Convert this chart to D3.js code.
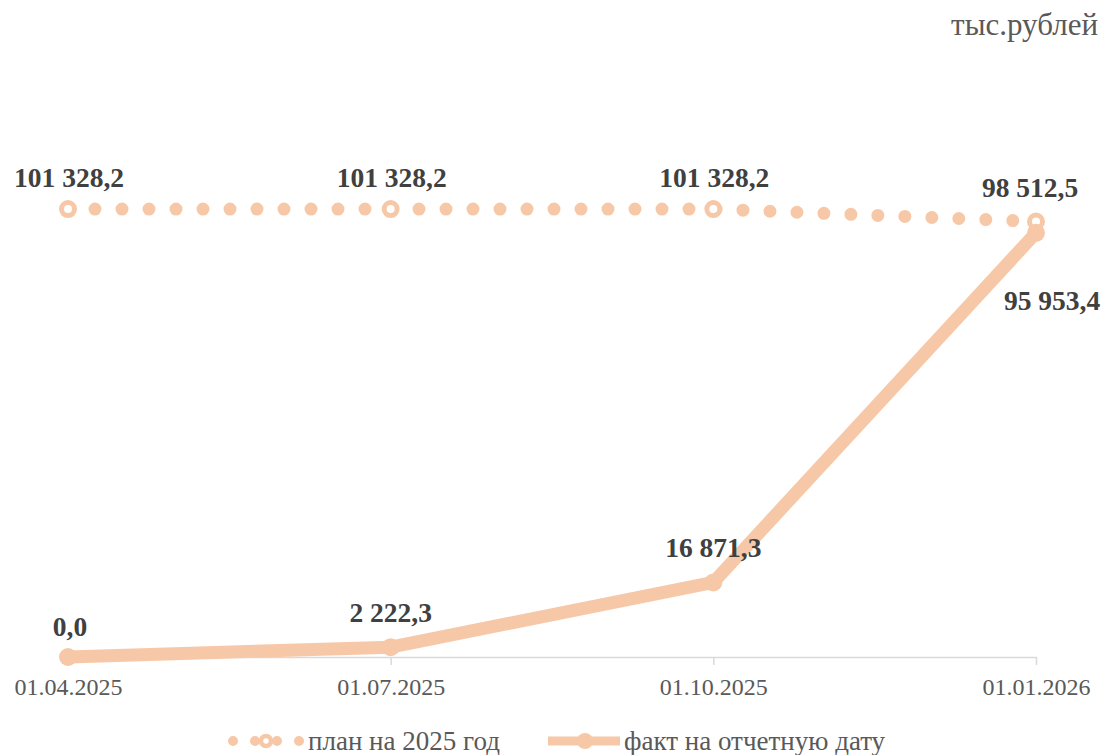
<!DOCTYPE html>
<html>
<head>
<meta charset="utf-8">
<script src="https://cdn.jsdelivr.net/npm/d3@7/dist/d3.min.js"></script>
<style>
  html, body { margin: 0; padding: 0; background: #ffffff; }
  svg { display: block; }
</style>
</head>
<body>
<svg id="chart" width="1117" height="755"></svg>
<script>
// Reporting dates and the two series (thousand roubles)
const dates = ["01.04.2025", "01.07.2025", "01.10.2025", "01.01.2026"];
const planValues = [101328.2, 101328.2, 101328.2, 98512.5];
const factValues = [0.0, 2222.3, 16871.3, 95953.4];
const seriesNames = ["план на 2025 год", "факт на отчетную дату"];
const unitLabel = "тыс.рублей";

const color = "#f7c8a7";
const labelColor = "#404040";
const axisTextColor = "#595959";
const font = "'Liberation Serif', 'Times New Roman', serif";

const svg = d3.select("#chart");

const x = d3.scalePoint().domain(dates).range([68, 1036]);
const y = d3.scaleLinear().domain([0, 120000]).range([657, 126.5]);

// number format: space thousands separator, comma decimal
const fmt = v => {
  const s = v.toFixed(1).split(".");
  const int = s[0].replace(/\B(?=(\d{3})+(?!\d))/g, " ");
  return int + "," + s[1];
};

// unit caption
svg.append("text")
  .attr("x", 1098).attr("y", 35)
  .attr("text-anchor", "end")
  .attr("font-family", font).attr("font-size", 31)
  .attr("fill", axisTextColor)
  .text(unitLabel);

// category axis
const axis = d3.axisBottom(x).tickSizeOuter(0).tickSizeInner(8).tickPadding(10);
const gx = svg.append("g").attr("transform", "translate(0,657)").call(axis);
gx.attr("font-family", font);
gx.select(".domain").attr("stroke", "#d9d9d9").attr("stroke-width", 1.5);
gx.selectAll(".tick line").attr("stroke", "#d9d9d9").attr("stroke-width", 1.5);
gx.selectAll(".tick text")
  .attr("font-family", font).attr("font-size", 24)
  .attr("fill", axisTextColor)
  .attr("dy", "0.85em");

const line = d3.line().x((d, i) => x(dates[i])).y(d => y(d));

// plan: round-dot line
svg.append("path")
  .datum(planValues)
  .attr("d", line)
  .attr("fill", "none")
  .attr("stroke", color)
  .attr("stroke-width", 13)
  .attr("stroke-linecap", "round")
  .attr("stroke-dasharray", "0 27");

// fact: thick solid line
svg.append("path")
  .datum(factValues)
  .attr("d", line)
  .attr("fill", "none")
  .attr("stroke", color)
  .attr("stroke-width", 13)
  .attr("stroke-linejoin", "round");

// plan markers (hollow rings)
svg.selectAll("circle.plan")
  .data(planValues)
  .join("circle")
  .attr("class", "plan")
  .attr("cx", (d, i) => x(dates[i]))
  .attr("cy", d => y(d))
  .attr("r", 6.5)
  .attr("fill", "#ffffff")
  .attr("stroke", color)
  .attr("stroke-width", 5);

// fact markers (filled)
svg.selectAll("circle.fact")
  .data(factValues)
  .join("circle")
  .attr("class", "fact")
  .attr("cx", (d, i) => x(dates[i]))
  .attr("cy", d => y(d))
  .attr("r", 9)
  .attr("fill", color);

// data labels
const labelStyle = sel => sel
  .attr("font-family", font).attr("font-size", 27.5)
  .attr("font-weight", "bold").attr("fill", labelColor);

const planOffsets = [[1, -22], [1, -22], [1, -22], [-6, -24]];
svg.selectAll("text.planLabel")
  .data(planValues)
  .join("text")
  .attr("class", "planLabel")
  .attr("x", (d, i) => x(dates[i]) + planOffsets[i][0])
  .attr("y", (d, i) => y(d) + planOffsets[i][1])
  .attr("text-anchor", "middle")
  .call(labelStyle)
  .text(d => fmt(d));

const factOffsets = [[2, -21], [0, -25], [0, -25], [16, 77]];
svg.selectAll("text.factLabel")
  .data(factValues)
  .join("text")
  .attr("class", "factLabel")
  .attr("x", (d, i) => x(dates[i]) + factOffsets[i][0])
  .attr("y", (d, i) => y(d) + factOffsets[i][1])
  .attr("text-anchor", "middle")
  .call(labelStyle)
  .text(d => fmt(d));

// legend
const legY = 741;
const leg1 = svg.append("g");
leg1.append("line")
  .attr("x1", 233).attr("x2", 300)
  .attr("y1", legY).attr("y2", legY)
  .attr("stroke", color).attr("stroke-width", 10)
  .attr("stroke-linecap", "round")
  .attr("stroke-dasharray", "0 22");
leg1.append("circle")
  .attr("cx", 266).attr("cy", legY).attr("r", 5)
  .attr("fill", "#ffffff").attr("stroke", color).attr("stroke-width", 4.5);
leg1.append("text")
  .attr("x", 308).attr("y", legY + 9)
  .attr("font-family", font).attr("font-size", 27)
  .attr("fill", axisTextColor)
  .text(seriesNames[0]);

const leg2 = svg.append("g");
leg2.append("line")
  .attr("x1", 548).attr("x2", 620)
  .attr("y1", legY).attr("y2", legY)
  .attr("stroke", color).attr("stroke-width", 9);
leg2.append("circle")
  .attr("cx", 585).attr("cy", legY).attr("r", 8)
  .attr("fill", color);
leg2.append("text")
  .attr("x", 624).attr("y", legY + 9)
  .attr("font-family", font).attr("font-size", 27)
  .attr("fill", axisTextColor)
  .text(seriesNames[1]);
</script>
</body>
</html>
